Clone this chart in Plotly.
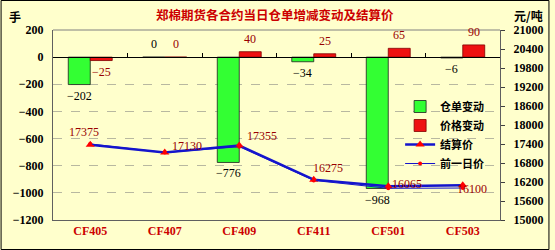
import plotly.graph_objects as go

categories = ["CF405", "CF407", "CF409", "CF411", "CF501", "CF503"]
warrant_change = [-202, 0, -776, -34, -968, -6]
price_change = [-25, 0, 40, 25, 65, 90]
settle_price = [17375, 17130, 17355, 16275, 16065, 16100]
prev_price = [17400, 17130, 17315, 16250, 16000, 16010]

W, H = 555, 250
ML, MR, MT, MB = 53, 50, 30, 30
PW, PH = W - ML - MR, H - MT - MB
BG = "#FFFFCC"
DARKRED = "#990000"
SERIF = "Liberation Serif, Times New Roman, serif"
CJK = "Noto Sans CJK SC, sans-serif"


def px_x(p):
    return (p - ML) / PW


def px_y(p):
    return (H - MB - p) / PH


fig = go.Figure()
fig.add_trace(go.Bar(
    x=categories, y=warrant_change, name="<b>仓单变动</b>",
    marker=dict(color="#33FF33", line=dict(color="#202020", width=0.8)),
    yaxis="y",
))
fig.add_trace(go.Bar(
    x=categories, y=price_change, name="<b>价格变动</b>",
    marker=dict(color="#EE1111", line=dict(color="#800000", width=0.8)),
    yaxis="y",
))
fig.add_trace(go.Scatter(
    x=categories, y=settle_price, name="<b>结算价</b>", yaxis="y2",
    mode="lines+markers",
    line=dict(color="#1414CC", width=2.5),
    marker=dict(symbol="triangle-up", size=8, color="#FF0000"),
))
fig.add_trace(go.Scatter(
    x=categories, y=prev_price, name="<b>前一日价</b>", yaxis="y2",
    mode="lines+markers",
    line=dict(color="#1414CC", width=1),
    marker=dict(symbol="circle", size=4, color="#FF0000"),
))

# settlement price labels (label offsets in pixels, style only)
label_offsets = [(-6, -13), (22, -7), (23, -9), (14, -12), (19, -2), (9, 4)]
for cat, v, (dx, dy) in zip(categories, settle_price, label_offsets):
    fig.add_annotation(x=cat, y=v, yref="y2", xshift=dx, yshift=-dy,
                       text=str(v), showarrow=False, xanchor="center", yanchor="middle",
                       font=dict(family=SERIF, size=12, color=DARKRED))

# bar value labels
for cat, v in zip(categories, warrant_change):
    fig.add_annotation(x=cat, y=v, yref="y", xshift=-11, yshift=(-11 if v < 0 else 13),
                       text=str(v).replace("-", "−"), showarrow=False,
                       xanchor="center", yanchor="middle",
                       font=dict(family=SERIF, size=12, color="black"))
for cat, v in zip(categories, price_change):
    fig.add_annotation(x=cat, y=v, yref="y", xshift=11, yshift=(-11 if v < 0 else 13),
                       text=str(v).replace("-", "−"), showarrow=False,
                       xanchor="center", yanchor="middle",
                       font=dict(family=SERIF, size=12, color=DARKRED))

# title and unit labels
fig.add_annotation(x=px_x(277), y=px_y(15), xref="paper", yref="paper",
                   text="<b>郑棉期货各合约当日仓单增减变动及结算价</b>", showarrow=False,
                   xanchor="center", yanchor="middle",
                   font=dict(family=CJK, size=12.5, color="#CC0000"))
fig.add_annotation(x=px_x(6), y=px_y(6), xref="paper", yref="paper",
                   text="<b>手</b>", showarrow=False, xanchor="left", yanchor="top",
                   font=dict(family=CJK, size=12, color="black"))
fig.add_annotation(x=px_x(534), y=px_y(16), xref="paper", yref="paper",
                   text="<b>元/吨</b>", showarrow=False, xanchor="center", yanchor="middle",
                   font=dict(family=CJK, size=12, color="black"))

# outer border
fig.add_shape(type="rect", xref="paper", yref="paper",
              x0=px_x(0.5), x1=px_x(W - 0.5),
              y0=px_y(H - 0.5), y1=px_y(0.5),
              line=dict(color="black", width=1), layer="below")

fig.update_layout(
    width=W, height=H,
    margin=dict(l=ML, r=MR, t=MT, b=MB, pad=0),
    paper_bgcolor=BG, plot_bgcolor=BG,
    barmode="group", bargap=0.41, bargroupgap=0,
    showlegend=True,
    legend=dict(x=px_x(404), y=px_y(92), xanchor="left", yanchor="top",
                bgcolor="rgba(0,0,0,0)", tracegroupgap=0, itemwidth=30,
                font=dict(family=CJK, size=11, color="black")),
    xaxis=dict(
        range=[-0.5, 5.5], showline=True, linecolor="#606060", linewidth=1,
        mirror=False, ticks="", showgrid=False,
        tickfont=dict(family=SERIF, size=12, color="#CC0000", weight="bold"),
    ),
    xaxis2=dict(
        overlaying="x", matches="x", anchor="free", position=1200 / 1400,
        showline=True, linecolor="black", linewidth=1,
        ticks="inside", ticklen=4, tickcolor="black", tickson="boundaries",
        showticklabels=False, showgrid=False, type="category",
        range=[-0.5, 5.5],
    ),
    yaxis=dict(
        range=[-1200, 200], dtick=200, showline=True, linecolor="#606060", linewidth=1,
        showgrid=True, gridcolor="#B8B8A0", griddash="dash", gridwidth=1,
        zeroline=False, ticks="", ticklabelstandoff=6,
        tickfont=dict(family=SERIF, size=12, color="black", weight="bold"),
    ),
    yaxis2=dict(
        range=[15000, 21000], dtick=600, overlaying="y", side="right", tickformat="d",
        showline=True, linecolor="#606060", linewidth=1, showgrid=False, zeroline=False,
        ticks="outside", ticklen=4, tickcolor="#404040", ticklabelstandoff=6,
        tickfont=dict(family=SERIF, size=12, color="black", weight="bold"),
    ),
)
# invisible trace that makes the zero-line category axis (xaxis2) render
fig.add_trace(go.Scatter(x=categories, y=[None] * len(categories), xaxis="x2",
                         showlegend=False, hoverinfo="skip"))
# top border of plot
fig.add_shape(type="line", xref="paper", yref="paper", x0=0, x1=1, y0=1, y1=1,
              line=dict(color="#808080", width=1))

fig.write_html("out.html")
